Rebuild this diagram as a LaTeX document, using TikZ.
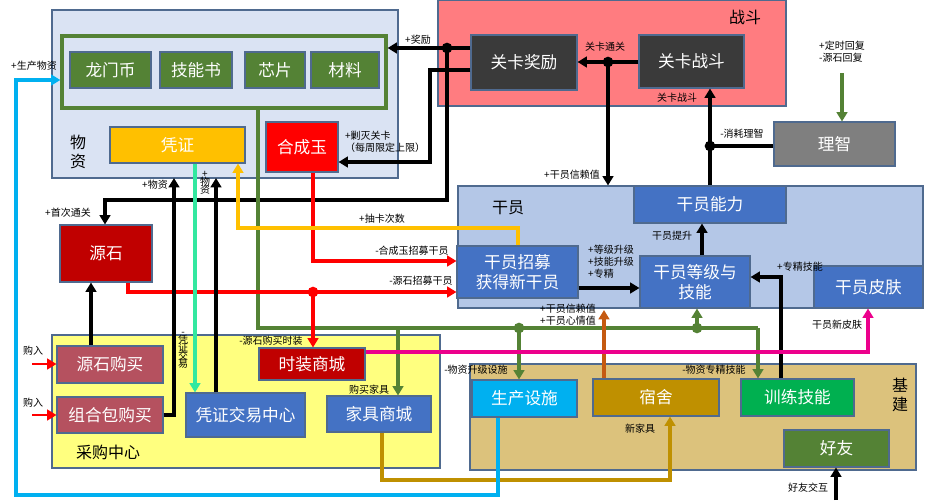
\documentclass[tikz,border=0pt]{standalone}
\usepackage{fontspec}
\newfontfamily\cjk{Noto Sans CJK SC}
\usetikzlibrary{fit,arrows.meta}
\definecolor{pblue}{HTML}{DAE3F3}
\definecolor{gyblue}{HTML}{B4C7E7}
\definecolor{mblue}{HTML}{4472C4}
\definecolor{dgreen}{HTML}{548235}
\definecolor{gold}{HTML}{FFC000}
\definecolor{dred}{HTML}{C00000}
\definecolor{fight}{HTML}{FF7C80}
\definecolor{dgray}{HTML}{3A3A3A}
\definecolor{mgray}{HTML}{7F7F7F}
\definecolor{ylw}{HTML}{FFFF7F}
\definecolor{rose}{HTML}{B5515F}
\definecolor{sand}{HTML}{DCC27C}
\definecolor{cyan1}{HTML}{00B0F0}
\definecolor{brown1}{HTML}{BF9000}
\definecolor{grn1}{HTML}{00B050}
\definecolor{orng}{HTML}{C55A11}
\definecolor{mint}{HTML}{33E8A0}
\definecolor{edge1}{HTML}{4F6A8F}
\newcommand\bx[4]{\node[box=#2,fit={#3}] (#1) {}; \node[boxtxt] (#1t) at (#1.center) {#4};}
\begin{document}
\begin{tikzpicture}[x=0.75pt,y=-0.75pt,
  panel/.style={draw=edge1,line width=0.8pt,fill=#1,inner sep=0pt},
  box/.style={draw=edge1,line width=0.8pt,fill=#1,inner sep=0pt},
  boxtxt/.style={text=white,inner sep=0pt,font=\cjk\fontsize{12.5}{15}\selectfont,align=center},
  lbl/.style={font=\cjk\fontsize{7.5}{9}\selectfont,inner sep=1pt},
  big/.style={font=\cjk\fontsize{12}{14}\selectfont,align=center},
  con/.style={line width=2.4pt,-{Triangle[length=7pt,width=8pt]}},
  ln/.style={line width=2.4pt},
  dot/.style={circle,fill,inner sep=0pt,minimum size=8pt}]
\useasboundingbox (0,0) rectangle (935,500);
\fill[white] (0,0) rectangle (935,500);
% panels
\node[panel=pblue,fit={(52,10)(398,178)}] (wz) {};
\node[panel=fight,fit={(438,0)(786,106)}] (zd) {};
\node[panel=gyblue,fit={(458,186)(923,308)}] (gy) {};
\node[panel=ylw,fit={(52,335)(440,468)}] (cg) {};
\node[panel=sand,fit={(470,364)(916,470)}] (jj) {};
\node[draw=dgreen,line width=2.4pt,fit={(62,36)(386,108)},inner sep=0pt] (gf) {};
\node[big] (wzl) at (78,152) {物\\资};
\node[big] (zdl) at (745,17) {战斗};
\node[big] (gyl) at (508,208) {干员};
\node[big] (cgl) at (108,452) {采购中心};
\node[big] (jjl) at (900,395) {基\\建};
% boxes
\bx{lmb}{dgreen}{(70,52)(151,88)}{龙门币}
\bx{jns}{dgreen}{(160,52)(232,88)}{技能书}
\bx{xp}{dgreen}{(245,52)(305,88)}{芯片}
\bx{cl}{dgreen}{(311,52)(379,88)}{材料}
\bx{pz}{gold}{(110,127)(245,163)}{凭证}
\bx{hcy}{red}{(266,122)(338,172)}{合成玉}
\bx{gkj}{dgray}{(471,35)(577,90)}{关卡奖励}
\bx{gkz}{dgray}{(639,35)(744,88)}{关卡战斗}
\bx{lz}{mgray}{(774,122)(895,166)}{理智}
\bx{nl}{mblue}{(634,186)(786,223)}{干员能力}
\bx{zm}{mblue}{(457,246)(578,298)}{干员招募\\获得新干员}
\bx{dj}{mblue}{(640,256)(750,308)}{干员等级与\\技能}
\bx{pf}{mblue}{(814,266)(923,308)}{干员皮肤}
\bx{ys}{dred}{(60,225)(152,282)}{源石}
\bx{ysgm}{rose}{(57,346)(163,383)}{源石购买}
\bx{zhb}{rose}{(57,397)(163,433)}{组合包购买}
\bx{pzjy}{mblue}{(186,393)(305,437)}{凭证交易中心}
\bx{sz}{dred}{(259,348)(365,380)}{时装商城}
\bx{jusc}{mblue}{(327,396)(431,432)}{家具商城}
\bx{sc}{cyan1}{(472,380)(577,417)}{生产设施}
\bx{ss}{brown1}{(593,379)(719,416)}{宿舍}
\bx{xl}{grn1}{(741,379)(854,416)}{训练技能}
\bx{hy}{dgreen}{(784,430)(889,467)}{好友}
% coordinates
\coordinate (d1) at (447,48);
\coordinate (d2) at (608,62);
\coordinate (d3) at (710,146);
\coordinate (d4) at (519,328);
\coordinate (d5) at (697,328);
\coordinate (d6) at (313,292);
% battle connectors
\draw[con] (gkj.west |- d1) -- (gf.east |- d1);
\node[lbl,anchor=south] at (418,46) {+奖励};
\draw[con] (d1) -- (447,200) -- (105,200) -- (ys.north -| 105,0);
\node[lbl] at (68,213) {+首次通关};
\draw[con] (gkj.west |- 0,70) -- (430,70) -- (430,162) -- (hcy.east |- 0,162);
\node[lbl,align=left] at (385,142) {+剿灭关卡\\（每周限定上限）};
\draw[con] (gkz.west |- d2) -- (gkj.east |- d2);
\node[lbl] at (605,47) {关卡通关};
\draw[con] (d2) -- (gy.north -| d2);
\node[lbl] at (572,175) {+干员信赖值};
\draw[con] (nl.north -| d3) -- (gkz.south -| d3);
\node[lbl] at (677,98) {关卡战斗};
\draw[ln] (lz.west |- d3) -- (d3);
\node[lbl] at (742,134) {-消耗理智};
\draw[con,draw=dgreen,-{Triangle[length=7pt,width=8pt,fill=dgreen]}] (842,73) -- (lz.north -| 842,0);
\node[lbl,align=left] at (842,52) {+定时回复\\-源石回复};
% operators
\draw[con] (dj.north -| 702,0) -- (nl.south -| 702,0);
\node[lbl] at (672,236) {干员提升};
\draw[con] (zm.east |- 0,288) -- (dj.west |- 0,288);
\node[lbl,align=left] at (611,262) {+等级升级\\+技能升级\\+专精};
\draw[con] (xl.north -| 781,0) -- (781,277) -- (dj.east |- 0,277);
\node[lbl] at (800,267) {+专精技能};
% green
\draw[ln,draw=dgreen] (gf.south -| 258,0) -- (258,328) -- (758,328);
\draw[con,draw=dgreen] (758,328) -- (xl.north -| 758,0);
\draw[con,draw=dgreen] (d4) -- (sc.north -| d4);
\draw[con,draw=dgreen] (d5) -- (dj.south -| d5);
\draw[con,draw=dgreen] (398,328) -- (jusc.north -| 398,0);
\node[lbl] at (369,390) {购买家具};
\node[lbl] at (476,370) {-物资升级设施};
\node[lbl] at (714,370) {-物资专精技能};
% orange
\draw[con,draw=orng] (ss.north -| 604,0) -- (604,310);
\node[lbl,align=left] at (568,315) {+干员信赖值\\+干员心情值};
% magenta
\draw[con,draw=magenta] (sz.east |- 0,352) -- (868,352) -- (pf.south -| 868,0);
\node[lbl] at (837,325) {干员新皮肤};
% red
\draw[con,draw=red] (hcy.south -| 313,0) -- (313,261) -- (zm.west |- 0,261);
\node[lbl] at (412,251) {-合成玉招募干员};
\draw[con,draw=red] (ys.south -| 128,0) -- (128,292) -- (zm.west |- 0,292);
\node[lbl] at (421,281) {-源石招募干员};
\draw[con,draw=red] (d6) -- (sz.north -| d6);
\node[lbl] at (271,341) {-源石购买时装};
% yellow
\draw[con,draw=gold] (zm.north -| 518,0) -- (518,228) -- (238,228) -- (pz.south -| 238,0);
\node[lbl] at (382,219) {+抽卡次数};
% purchase center
\draw[con] (ysgm.north -| 91,0) -- (ys.south -| 91,0);
\draw[con] (zhb.east |- 0,415) -- (174,415) -- (174,178);
\node[lbl] at (155,185) {+物资};
\draw[con] (pzjy.north -| 216,0) -- (216,178);
\node[lbl,align=center] at (205,183) {+\\[-3pt]物\\[-3pt]资};
\draw[con,draw=mint] (pz.south -| 195,0) -- (pzjy.north -| 195,0);
\node[lbl,align=center] at (183,350) {-\\[-3pt]凭\\[-3pt]证\\[-3pt]交\\[-3pt]易};
\draw[con,draw=brown1] (jusc.south -| 382,0) -- (382,480) -- (670,480) -- (ss.south -| 670,0);
\node[lbl] at (640,429) {新家具};
\draw[con,draw=cyan1] (sc.south -| 498,0) -- (498,495) -- (16,495) -- (16,80) -- (gf.west |- 0,80);
\node[lbl] at (34,66) {+生产物资};
\coordinate (in1) at (32,364);
\coordinate (in2) at (32,415);
\draw[con,draw=red,line width=2pt] (in1) -- (ysgm.west |- in1);
\draw[con,draw=red,line width=2pt] (in2) -- (zhb.west |- in2);
\node[lbl] at (33,351) {购入};
\node[lbl] at (33,403) {购入};
\coordinate (hyin) at (836,500);
\draw[con] (hyin) -- (hy.south -| hyin);
\node[lbl] at (808,488) {好友交互};
% dots
\foreach \d in {d1,d2,d3} \node[dot] at (\d) {};
\node[dot,dgreen] at (d4) {};
\node[dot,dgreen] at (d5) {};
\node[dot,red] at (d6) {};
\end{tikzpicture}
\end{document}
